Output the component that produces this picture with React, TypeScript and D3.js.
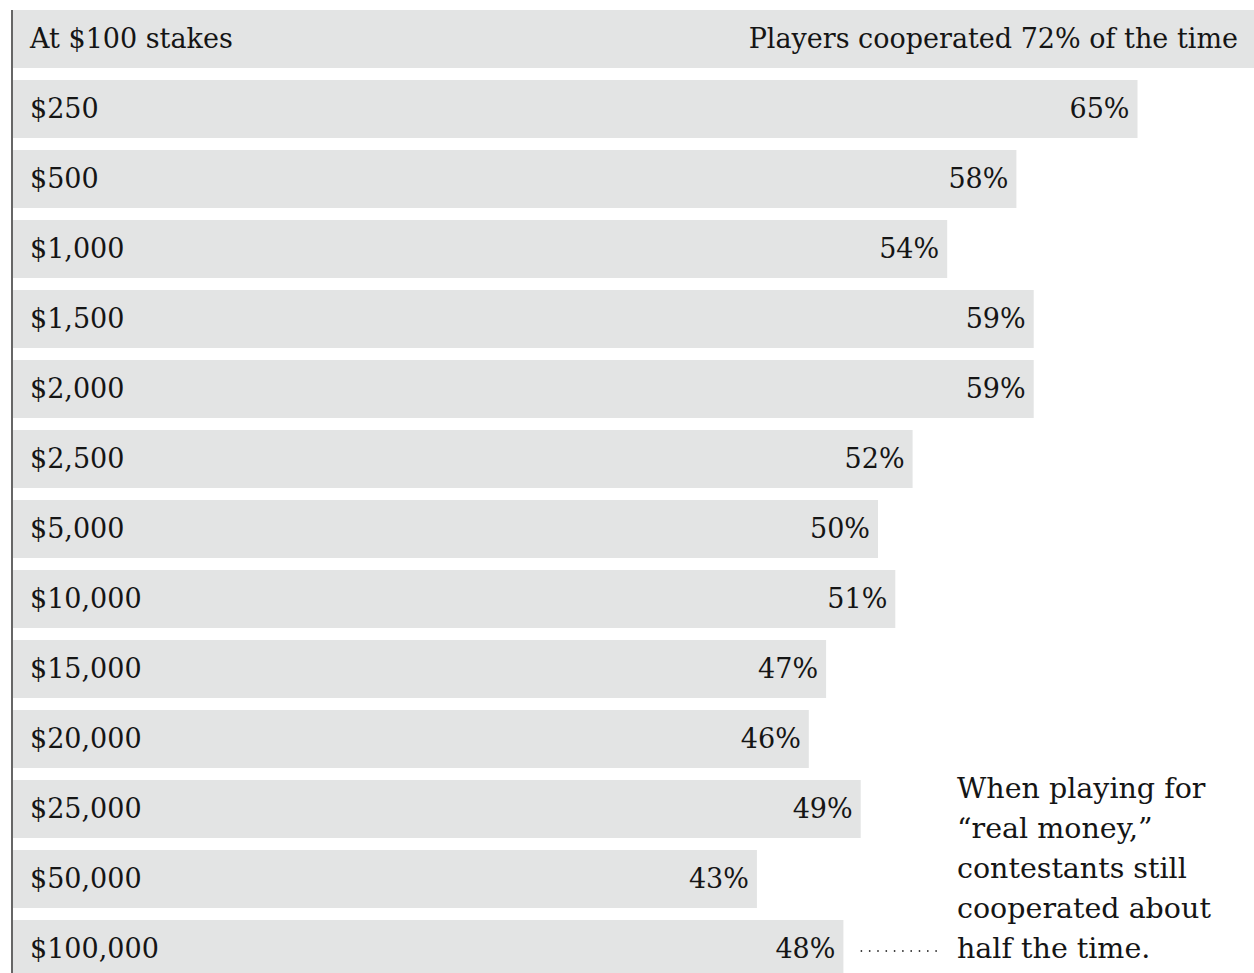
import React from "react";
import * as d3 from "d3";

const categories = ["At $100 stakes", "$250", "$500", "$1,000", "$1,500", "$2,000", "$2,500", "$5,000", "$10,000", "$15,000", "$20,000", "$25,000", "$50,000", "$100,000"];
const values = [72, 65, 58, 54, 59, 59, 52, 50, 51, 47, 46, 49, 43, 48];
const valueLabels = ["Players cooperated 72% of the time", "65%", "58%", "54%", "59%", "59%", "52%", "50%", "51%", "47%", "46%", "49%", "43%", "48%"];
const annotationLines = ["When playing for", "\u201Creal money,\u201D", "contestants still", "cooperated about", "half the time."];

const W = 1254;
const H = 973;
const FONT = "'DejaVu Serif', serif";
const FS = 27;
const FS_NOTE = 28.5;

export default function App() {
  const x = d3.scaleLinear().domain([0, 72]).range([13, 13 + 72 * 17.3]);
  const y = d3.scaleBand<string>().domain(categories).range([10, 978]).paddingInner(12 / 70).paddingOuter(0);
  const bw = y.bandwidth();
  const lastCat = categories[categories.length - 1];
  const lastMid = (y(lastCat) as number) + bw / 2;
  const lastEnd = x(values[values.length - 1]);
  return (
    <svg width={W} height={H} style={{ position: "absolute", left: 0, top: 0, background: "#fff" }} fontFamily={FONT}>
      {categories.map((c, i) => {
        const top = y(c) as number;
        const mid = top + bw / 2;
        return (
          <g key={c}>
            <rect x={x(0)} y={top} width={x(values[i]) - x(0)} height={bw} fill="#e3e4e4" />
            <text x={30} y={mid + 9} fontSize={FS} fill="#151515">{c}</text>
            <text x={i === 0 ? 1238 : x(values[i]) - 8} y={mid + 9} fontSize={FS} fill="#151515" textAnchor="end">{valueLabels[i]}</text>
          </g>
        );
      })}
      <line x1={12} x2={12} y1={10} y2={H} stroke="#333" strokeWidth={1.5} />
      <line x1={lastEnd + 18} x2={938} y1={lastMid + 2} y2={lastMid + 2} stroke="#333" strokeWidth={1.8} strokeLinecap="round" strokeDasharray="0 8.3" />
      {annotationLines.map((t, i) => (
        <text key={i} x={957} y={lastMid + 9 - (annotationLines.length - 1 - i) * 40} fontSize={FS_NOTE} fill="#151515">{t}</text>
      ))}
    </svg>
  );
}
